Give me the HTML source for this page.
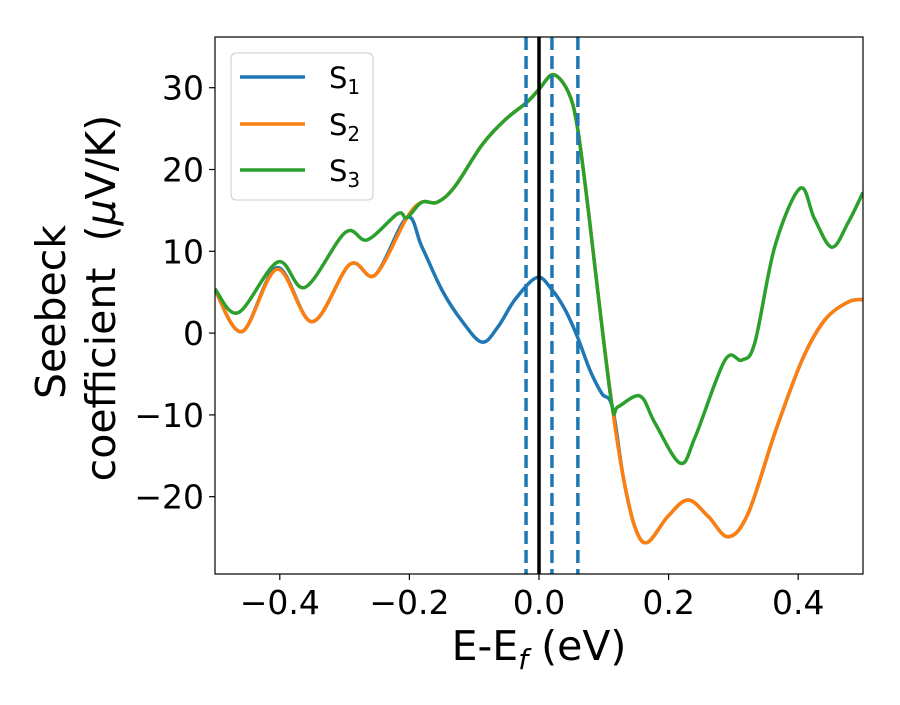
<!DOCTYPE html>
<html><head><meta charset="utf-8"><style>
body{margin:0;background:#fff;}
svg text{font-family:"DejaVu Sans","Liberation Sans",sans-serif;fill:#000;}
</style></head><body>
<svg id="chart" width="900" height="700" viewBox="0 0 900 700" xmlns="http://www.w3.org/2000/svg">
<rect x="0" y="0" width="900" height="700" fill="#fff"/>
<g id="plot"></g>
<rect x="215" y="37" width="648" height="537" fill="none" stroke="#000" stroke-width="1.2"/>
<g id="ticks"></g>
<text x="539" y="660" font-size="41" text-anchor="middle">E-E<tspan font-style="italic" font-size="28" dy="9">f</tspan><tspan dy="-9"> (eV)</tspan></text>
<g transform="translate(65,312) rotate(-90)"><text x="0" y="0" font-size="41" text-anchor="middle">Seebeck</text></g>
<g transform="translate(115,298) rotate(-90)"><text x="0" y="0" font-size="41" text-anchor="middle" xml:space="preserve">coefficient  (<tspan font-style="italic">μ</tspan>V/K)</text></g>
<g>
<rect x="231" y="53" width="142" height="147" rx="5" fill="#fff" fill-opacity="0.85" stroke="#ccc" stroke-width="1"/>
<line x1="240" y1="77" x2="305" y2="77" stroke="#1f77b4" stroke-width="3.5"/>
<line x1="240" y1="124" x2="305" y2="124" stroke="#ff7f0e" stroke-width="3.5"/>
<line x1="240" y1="170" x2="305" y2="170" stroke="#2ca02c" stroke-width="3.5"/>
<text x="329" y="88" font-size="29">S<tspan font-size="20" dy="6">1</tspan></text>
<text x="329" y="135" font-size="29">S<tspan font-size="20" dy="6">2</tspan></text>
<text x="329" y="181" font-size="29">S<tspan font-size="20" dy="6">3</tspan></text>
</g>
</svg>
<script>
const xTicks=[-0.4,-0.2,0.0,0.2,0.4];
const xTickLabels=["−0.4","−0.2","0.0","0.2","0.4"];
const yTicks=[30,20,10,0,-10,-20];
const yTickLabels=["30","20","10","0","−10","−20"];
const energyS3=[-0.5,-0.464,-0.403,-0.361,-0.299,-0.265,-0.218,-0.204,-0.181,-0.157,-0.130,-0.088,-0.052,-0.019,0.0,0.022,0.045,0.059,0.076,0.094,0.113,0.122,0.156,0.179,0.218,0.241,0.287,0.313,0.333,0.364,0.403,0.425,0.452,0.477,0.5];
const seebeckS3=[5.4,2.5,8.7,5.6,12.3,11.4,14.6,14.1,16.0,16.0,17.9,23.0,26.1,28.2,29.8,31.6,29.5,25.3,15.1,2.9,-9.0,-9.0,-7.7,-11.0,-15.9,-12.7,-3.3,-3.3,-1.2,10.6,17.7,14.0,10.5,13.5,17.2];
const energyS2=[-0.5,-0.458,-0.404,-0.350,-0.292,-0.253,-0.204,-0.181,-0.157,-0.130,-0.088,-0.052,-0.019,0.0,0.022,0.045,0.059,0.076,0.094,0.113,0.130,0.148,0.167,0.199,0.230,0.261,0.292,0.323,0.364,0.406,0.441,0.477,0.5];
const seebeckS2=[5.3,0.2,7.8,1.4,8.4,7.1,14.1,16.0,16.0,17.9,23.0,26.1,28.2,29.8,31.6,29.5,25.3,15.1,2.9,-9.0,-17.6,-23.7,-25.6,-22.4,-20.4,-22.4,-24.9,-22.0,-12.2,-3.3,1.6,3.8,4.1];
const energyS1=[-0.5,-0.458,-0.404,-0.350,-0.292,-0.253,-0.204,-0.181,-0.150,-0.120,-0.088,-0.063,-0.037,-0.003,0.02,0.040,0.059,0.079,0.097,0.113,0.130,0.148,0.167,0.199,0.230,0.261,0.292,0.323,0.364,0.406,0.441,0.477,0.5];
const seebeckS1=[5.3,0.2,8.0,1.4,8.4,7.1,14.1,10.6,5.3,1.6,-1.1,0.8,4.1,6.8,5.3,2.9,-0.4,-4.6,-7.4,-9.0,-17.6,-23.7,-25.6,-22.4,-20.4,-22.4,-24.9,-22.0,-12.2,-3.3,1.6,3.8,4.1];
const dashedLines=[-0.02,0.02,0.06];
const fermiLine=[0.0];

const NS="http://www.w3.org/2000/svg";
const X0=215,X1=863,Y0=37,Y1=574,xMin=-0.5,xMax=0.5,yMin=-29.45,yMax=36.2;
function sx(v){return X0+(v-xMin)/(xMax-xMin)*(X1-X0);}
function sy(v){return Y1-(v-yMin)/(yMax-yMin)*(Y1-Y0);}
function mk(tag,attrs,parent){const e=document.createElementNS(NS,tag);for(const k in attrs)e.setAttribute(k,attrs[k]);parent.appendChild(e);return e;}
const plot=document.getElementById('plot');
const ticks=document.getElementById('ticks');
const defs=mk('defs',{},plot);
const cp=mk('clipPath',{id:'clip'},defs);
mk('rect',{x:X0,y:Y0,width:X1-X0,height:Y1-Y0},cp);
function smooth(xs,ys){
  const p=xs.map((x,i)=>[sx(x),sy(ys[i])]);
  let d="M"+p[0][0].toFixed(2)+","+p[0][1].toFixed(2);
  for(let i=0;i<p.length-1;i++){
    const a=p[Math.max(i-1,0)],b=p[i],c=p[i+1],e=p[Math.min(i+2,p.length-1)];
    const c1=[b[0]+(c[0]-a[0])/6,b[1]+(c[1]-a[1])/6];
    const c2=[c[0]-(e[0]-b[0])/6,c[1]-(e[1]-b[1])/6];
    d+=" C"+c1[0].toFixed(2)+","+c1[1].toFixed(2)+" "+c2[0].toFixed(2)+","+c2[1].toFixed(2)+" "+c[0].toFixed(2)+","+c[1].toFixed(2);
  }
  return d;
}
const g=mk('g',{'clip-path':'url(#clip)'},plot);
const series=[[energyS1,seebeckS1,'#1f77b4','series-s1'],[energyS2,seebeckS2,'#ff7f0e','series-s2'],[energyS3,seebeckS3,'#2ca02c','series-s3']];
series.forEach(s=>{
  const p=mk('path',{d:smooth(s[0],s[1]),fill:'none',stroke:s[2],'stroke-width':3.5,'stroke-linejoin':'round'},g);
  
  
});
dashedLines.forEach(v=>{
  const l=mk('line',{x1:sx(v),x2:sx(v),y1:Y0,y2:Y1,stroke:'#1f77b4','stroke-width':3.5,'stroke-dasharray':'13,6'},g);
  
  
});
fermiLine.forEach(v=>{
  const l=mk('line',{x1:sx(v),x2:sx(v),y1:Y0,y2:Y1,stroke:'#000','stroke-width':3.5},g);
  
  
});
xTicks.forEach((v,i)=>{
  const l=mk('line',{x1:sx(v),x2:sx(v),y1:Y1,y2:Y1+6,stroke:'#000','stroke-width':1.2},ticks);
  
  
  const t=mk('text',{x:sx(v),y:Y1+40,'font-size':33,'text-anchor':'middle'},ticks);
  t.textContent=xTickLabels[i];
  
  
});
yTicks.forEach((v,i)=>{
  const l=mk('line',{x1:X0-6,x2:X0,y1:sy(v),y2:sy(v),stroke:'#000','stroke-width':1.2},ticks);
  
  
  const t=mk('text',{x:X0-11,y:sy(v)+12,'font-size':33,'text-anchor':'end'},ticks);
  t.textContent=yTickLabels[i];
  
  
});
</script>
</body></html>
